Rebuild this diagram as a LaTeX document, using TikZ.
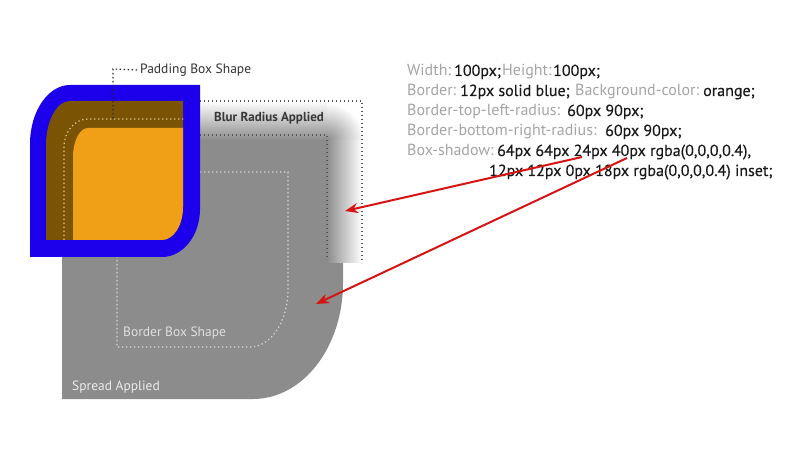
\documentclass[tikz,border=0pt]{standalone}
\usepackage{fontspec}
\setmainfont{PT Sans}
\newfontfamily\valfont{PT Sans}[FakeBold=0.3]
\usetikzlibrary{arrows.meta}
\definecolor{shgray}{RGB}{140,140,140}
\definecolor{bblue}{RGB}{28,0,235}
\definecolor{bbrown}{RGB}{122,84,4}
\definecolor{borange}{RGB}{240,160,22}
\definecolor{labgray}{RGB}{165,165,165}
\definecolor{valblack}{RGB}{25,25,25}
\definecolor{dotdark}{RGB}{85,85,85}
\definecolor{dotlight}{RGB}{215,215,215}
\definecolor{dotpale}{RGB}{225,200,140}
\definecolor{arrred}{RGB}{215,20,20}
\tikzset{
  lab/.style={text=labgray, font=\fontsize{16}{19}\selectfont, anchor=base west, inner sep=0pt},
  val/.style={text=valblack, font=\valfont\fontsize{16}{19}\selectfont, anchor=base west, inner sep=0pt},
  darkdots/.style={draw=dotdark, line width=1.2pt, dash pattern=on 1.3pt off 2.7pt},
  lightdots/.style={draw=dotlight, line width=1.2pt, dash pattern=on 1.3pt off 2.7pt},
  paledots/.style={draw=dotpale, line width=1.2pt, dash pattern=on 1.3pt off 2.7pt},
  blackdots/.style={draw=black!85, line width=1.2pt, dash pattern=on 1.3pt off 2.7pt},
  redarrow/.style={draw=arrred, line width=2pt, -{Stealth[length=13pt,width=10pt]}},
  shapelabel/.style={font=\fontsize{13.5}{16}\selectfont, anchor=west, inner sep=0pt}
}
\begin{document}
\begin{tikzpicture}[x=1pt,y=-1pt]
\fill[white] (0,0) rectangle (792,454);
\useasboundingbox (0,0) rectangle (792,454);

% shadow (spread + blur)
\fill[shgray] (62,140) -- (327,140) -- (327,263) -- (343,263) -- (343,283)
  .. controls (343,347) and (303,399) .. (253,399) -- (62,399) -- cycle;
\shade[top color=white, bottom color=shgray] (190,101) rectangle (327,140);
\shade[left color=shgray, right color=white] (327,140) rectangle (362,263);
\begin{scope}
  \clip (327,101) rectangle (362,140);
  \shade[inner color=shgray, outer color=white] (327,140) circle (37pt);
\end{scope}

% blur dotted outlines
\draw[darkdots] (200,101) -- (362,101) -- (362,263);
\draw[darkdots] (200,135) -- (327,135) -- (327,260);

% border box shape (light dotted)
\draw[lightdots] (200,172) -- (288,172) -- (288,290)
  .. controls (288,321) and (271,347) .. (250,347) -- (117,347) -- (117,250);

% blue border box
\fill[bblue] (30,144) -- (30,257) -- (162,257)
  .. controls (183,257) and (200,235.5) .. (200,209) -- (200,85) -- (70,85)
  .. controls (48,85) and (30,111.4) .. (30,144) -- cycle;
% padding box (inset shadow colour)
\fill[bbrown] (46,145) -- (46,240) -- (162,240)
  .. controls (173.6,240) and (183,225.2) .. (183,207) -- (183,101) -- (70,101)
  .. controls (56.8,101) and (46,120.7) .. (46,145) -- cycle;
% orange content
\fill[borange] (73,157) -- (73,240) -- (162,240)
  .. controls (173.6,240) and (183,225.2) .. (183,207) -- (183,128) -- (88,128)
  .. controls (79.7,128) and (73,141) .. (73,157) -- cycle;
% inset spread dotted line
\draw[paledots] (64,240) -- (64,147)
  .. controls (64,131.5) and (74.8,119) .. (88,119) -- (183,119);

% padding box label
\coordinate (pbend) at (113,119);
\coordinate (pbcorner) at (113,69);
\node[shapelabel, text=black!80] (pblabel) at (140,70) {Padding Box Shape};
\draw[blackdots] (pblabel.west) ++(-3,0) -- (pbcorner) -- (pbend);

\node[shapelabel, text=black!78, font=\bfseries\fontsize{13}{15}\selectfont] (blur) at (214,118) {Blur Radius Applied};
\node[shapelabel, text=white!88!black] (bbs) at (123,333) {Border Box Shape};
\node[shapelabel, text=white!92!black] (spread) at (72,387) {Spread Applied};

% CSS text
\node[lab] (w1) at (407,76) {Width:};
\node[val] (w2) at (454,76) {100px;};
\node[lab] (w3) at (502,76) {Height:};
\node[val] (w4) at (553,76) {100px;};
\node[lab] (b1) at (407,96) {Border:};
\node[val] (b2) at (460,96) {12px solid blue;};
\node[lab] (b3) at (575,96) {Background-color:};
\node[val] (b4) at (703,96) {orange;};
\node[lab] (t1) at (407,116) {Border-top-left-radius:};
\node[val] (t2) at (567,116) {60px 90px;};
\node[lab] (r1) at (407,136) {Border-bottom-right-radius:};
\node[val] (r2) at (605,136) {60px 90px;};
\node[lab] (s1) at (407,156) {Box-shadow:};
\node[val] (s2) at (497,156) {64px 64px 24px 40px rgba(0,0,0,0.4),};
\node[val] (s3) at (489,176) {12px 12px 0px 18px rgba(0,0,0,0.4) inset;};

% arrows
\coordinate (a1s) at (582,157);
\coordinate (a1e) at (345,211);
\coordinate (a2s) at (627,158);
\coordinate (a2e) at (316,304);
\draw[redarrow] (a1s) -- (a1e);
\draw[redarrow] (a2s) -- (a2e);
\end{tikzpicture}
\end{document}
